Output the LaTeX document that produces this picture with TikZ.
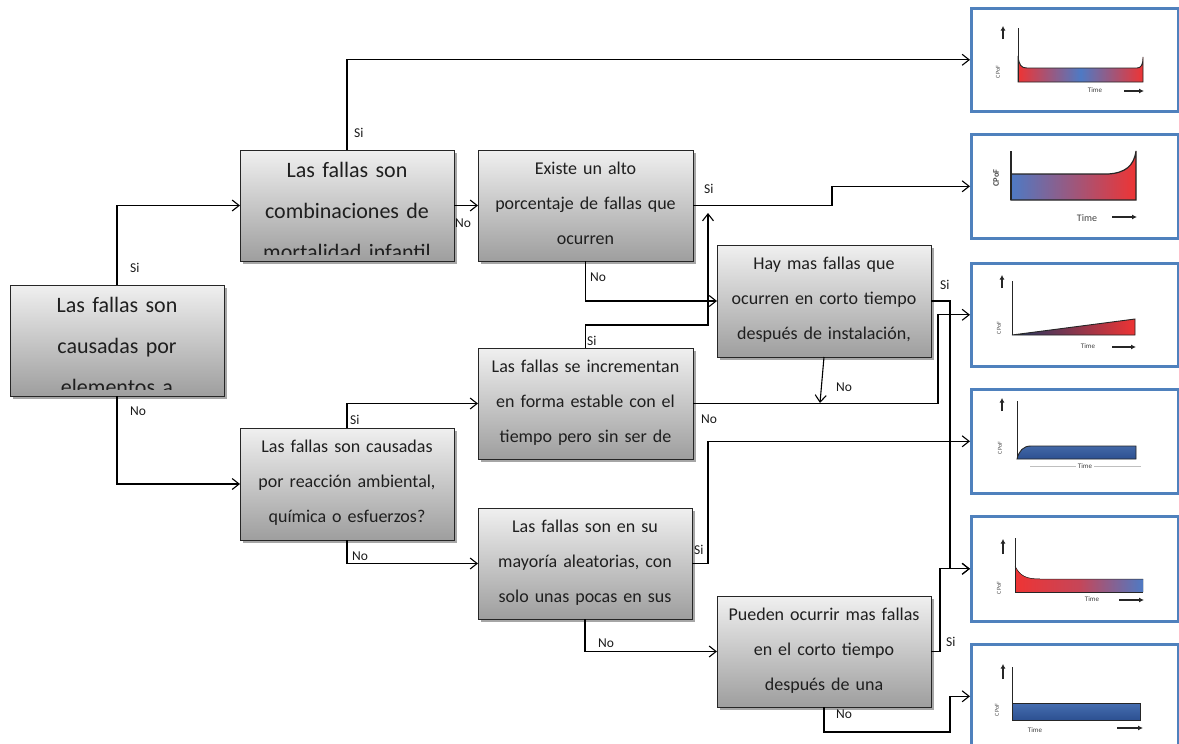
\documentclass[tikz,border=0pt]{standalone}
\usepackage{fontspec}
\setmainfont{Carlito}
\usetikzlibrary{arrows.meta,shadows,calc}

\definecolor{frameblue}{RGB}{79,129,189}
\definecolor{curvered}{RGB}{238,52,52}
\definecolor{curveblue}{RGB}{78,122,196}
\definecolor{curvedark}{RGB}{44,80,145}

\tikzset{
  qbox/.style={draw=black!85, line width=0.8pt, top color=black!6, bottom color=black!38,
    inner sep=0pt, outer sep=0pt,
    drop shadow={shadow xshift=2.5pt, shadow yshift=-2.5pt, opacity=0.35, fill=black}},
  qtext/.style={inner sep=0pt, align=center, anchor=base, text=black!88},
  chartframe/.style={draw=frameblue, line width=2.6pt, fill=white, inner sep=0pt, anchor=north west},
  link/.style={draw=black, line width=1.1pt,
    -{Straight Barb[length=7pt,width=11pt,line width=1.1pt]}},
  answer/.style={font=\fontsize{13.5}{15}\selectfont, anchor=west, inner sep=0pt, text=black!90},
  axisline/.style={draw=black!85, line width=1pt},
  curveline/.style={draw=black!85, line width=0.9pt},
  uparrow/.style={draw=black!85, line width=1.3pt, -{Latex[length=4.5pt,width=5pt]}},
  timearrow/.style={draw=black!85, line width=1.2pt, -{Latex[length=5pt,width=5pt]}},
  cpof/.style={rotate=90, inner sep=0pt, text=black!70, font=\fontsize{6}{7}\selectfont},
  timelbl/.style={inner sep=0pt, text=black!75, font=\fontsize{7}{8}\selectfont}
}

% question box: name, x, y, width, height, font size, line skip, first baseline, text
\newcommand{\qbox}[9]{%
  \node[qbox, anchor=north west, minimum width=#4pt, minimum height=#5pt] (#1) at (#2,#3) {};
  \begin{scope}
    \clip (#2,#3) rectangle ++(#4,#5-7);
    \node[qtext, text width=#4pt, font={\fontsize{#6}{#7}\selectfont}] (#1-text)
      at ([yshift=-#8pt]#1.north) {#9};
  \end{scope}}

\begin{document}
\begin{tikzpicture}[x=1pt,y=-1pt]
\useasboundingbox (0,0) rectangle (1179,744);
\clip (0,0) rectangle (1179,744);

% ---------- decision boxes ----------
\qbox{A}{10}{285}{214}{111}{22}{41}{27}{Las fallas son\\causadas por\\elementos a}
\qbox{B}{240}{150}{214}{111}{22}{41}{27}{Las fallas son\\combinaciones de\\mortalidad infantil}
\qbox{C}{478}{150}{215}{111}{18}{35}{24}{Existe un alto\\porcentaje de fallas que\\ocurren}
\qbox{D}{717}{245}{214}{112}{18}{35}{24}{Hay mas fallas que\\ocurren en corto tiempo\\después de instalación,}
\qbox{E}{478}{348}{215}{111}{18}{35}{24}{Las fallas se incrementan\\en forma estable con el\\tiempo pero sin ser de}
\qbox{F}{240}{428}{214}{112}{18}{35}{24}{Las fallas son causadas\\por reacción ambiental,\\química o esfuerzos?}
\qbox{G}{478}{508}{214}{111}{18}{35}{24}{Las fallas son en su\\mayoría aleatorias, con\\solo unas pocas en sus}
\qbox{H}{717}{596}{214}{111}{18}{35}{24}{Pueden ocurrir mas fallas\\en el corto tiempo\\después de una}

% ---------- failure pattern frames ----------
\node[chartframe, minimum width=207pt, minimum height=103pt] (ch1) at (970,7) {};
\node[chartframe, minimum width=207pt, minimum height=104pt] (ch2) at (970,133) {};
\node[chartframe, minimum width=207pt, minimum height=103pt] (ch3) at (970,262) {};
\node[chartframe, minimum width=207pt, minimum height=104pt] (ch4) at (970,388) {};
\node[chartframe, minimum width=207pt, minimum height=105pt] (ch5) at (970,515) {};
\node[chartframe, minimum width=207pt, minimum height=104pt] (ch6) at (970,643) {};

% pattern 1: bathtub
\path[curveline, left color=curvered, right color=curvered, middle color=curveblue]
  (1018,82) -- (1018,56) .. controls (1019,65) and (1021,68) .. (1027,68) -- (1137,68)
  .. controls (1141,68) and (1143,65) .. (1143,57) -- (1143,82) -- cycle;
\draw[axisline] (1018,28) -- (1018,82);
\draw[uparrow] (1003,39) -- (1003,26);
\node[cpof] (p1y) at (998,72) {CPoF};
\node[timelbl] (p1x) at (1095,90) {Time};
\draw[timearrow] (1124,91) -- (1144,91);

% pattern 2: constant then wear-out
\path[curveline, line width=1.2pt, left color=curveblue, right color=curvered]
  (1011,200) -- (1011,174) -- (1108,174) .. controls (1125,173) and (1134,166) .. (1136,151)
  -- (1136,200) -- cycle;
\draw[axisline, line width=1.3pt] (1011,151) -- (1011,200);
\node[cpof, font={\bfseries\fontsize{8.5}{9}\selectfont}] (p2y) at (996,178) {CPoF};
\node[timelbl, font={\fontsize{10}{11}\selectfont}] (p2x) at (1087,218) {Time};
\draw[timearrow, line width=1.6pt] (1112,217) -- (1137,217);

% pattern 3: steadily increasing
\path[curveline, left color=curvedark!70!black, right color=curvered]
  (1012,335) -- (1135,319) -- (1135,335) -- cycle;
\draw[axisline] (1012,281) -- (1012,335);
\draw[uparrow] (1002,288) -- (1002,275);
\node[cpof] (p3y) at (999,328) {CPoF};
\node[timelbl] (p3x) at (1088,346) {Time};
\draw[timearrow] (1112,347) -- (1136,347);

% pattern 4: initial rise then constant
\path[curveline, top color=curveblue!85!black, bottom color=curvedark]
  (1017,459) .. controls (1019,451) and (1023,446) .. (1031,446) -- (1136,446)
  -- (1136,459) -- cycle;
\draw[axisline] (1017,401) -- (1017,459);
\draw[uparrow] (1002,411) -- (1002,398);
\node[cpof] (p4y) at (1000,448) {CPoF};
\node[timelbl, fill=white, inner sep=2pt] (p4x) at (1085,466) {Time};
\draw[black!25, line width=0.6pt] (1030,466) -- (p4x.west) (p4x.east) -- (1141,466);

% pattern 5: infant mortality then constant
\fill[left color=curvered, right color=curveblue, middle color=curvered!75!curveblue]
  (1015,592) -- (1015,566) .. controls (1020,576) and (1026,579) .. (1040,579)
  -- (1143,579) -- (1143,592) -- cycle;
\draw[curveline, line width=0.5pt] (1015,566) .. controls (1020,576) and (1026,579) .. (1040,579) -- (1143,579);
\draw[axisline] (1015,538) -- (1015,592) -- (1143,592);
\draw[uparrow] (1003,554) -- (1003,539);
\node[cpof] (p5y) at (999,588) {CPoF};
\node[timelbl] (p5x) at (1092,599) {Time};
\draw[timearrow] (1119,600) -- (1144,600);

% pattern 6: constant (random)
\path[curveline, top color=curveblue!90!black, bottom color=curvedark]
  (1012,703) rectangle (1140,720);
\draw[axisline] (1012,667) -- (1012,720);
\draw[uparrow] (1003,679) -- (1003,664);
\node[cpof] (p6y) at (997,710) {CPoF};
\node[timelbl] (p6x) at (1035,730) {Time};
\draw[timearrow] (1117,728) -- (1143,728);

% ---------- helper points for the routing ----------
\coordinate (xC) at (832,0);
\coordinate (xE) at (938,0);
\coordinate (xG) at (708,0);
\coordinate (xD) at (950,0);
\coordinate (xH) at (940,0);
\coordinate (jC) at (708,213);
\coordinate (jE) at (820,403);
\coordinate (hb) at (950,732);

% ---------- connectors ----------
\draw[link] (A.north) |- (B.west);
\draw[link] (A.south) |- (F.west);
\draw[link] (B.north) |- (ch1.west);
\draw[link] (B.east) -- (C.west);
\draw[link] (C.east) -- (C.east -| xC) |- (ch2.west);
\draw[link] (C.south) |- (D.west);
\draw[link] (E.north) -- ++(0,-23) -| (jC);
\draw[link] (D.east) -- (D.east -| xD) |- (ch5.west);
\draw[link] (D.south) -- (jE);
\draw[link] (E.east) -- (E.east -| xE) |- (ch3.west);
\draw[link] (F.north) |- (E.west);
\draw[link] (F.south) |- (G.west);
\draw[link] (G.east) -- (G.east -| xG) |- (ch4.west);
\draw[link] (G.south) |- (H.west);
\draw[link] (H.east) -- (H.east -| xH) |- (ch5.west);
\draw[link] (H.south) |- (hb) |- (ch6.west);

% ---------- answers ----------
\node[answer] (a1) at (130,268) {Si};
\node[answer] (a2) at (130,411) {No};
\node[answer] (a3) at (354,133) {Si};
\node[answer] (a4) at (455,223) {No};
\node[answer] (a5) at (704,189) {Si};
\node[answer] (a6) at (590,277) {No};
\node[answer] (a7) at (587,341) {Si};
\node[answer] (a8) at (940,285) {Si};
\node[answer] (a9) at (836,387) {No};
\node[answer] (a10) at (701,419) {No};
\node[answer] (a11) at (350,420) {Si};
\node[answer] (a12) at (352,556) {No};
\node[answer] (a13) at (694,550) {Si};
\node[answer] (a14) at (598,643) {No};
\node[answer] (a15) at (946,642) {Si};
\node[answer] (a16) at (836,714) {No};
\end{tikzpicture}
\end{document}
